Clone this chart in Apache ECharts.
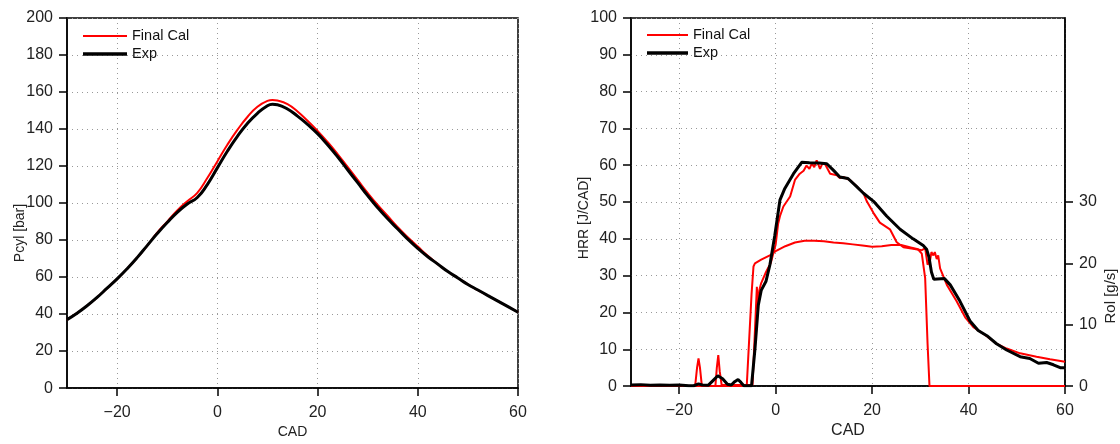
<!DOCTYPE html>
<html>
<head>
<meta charset="utf-8">
<script src="https://cdn.jsdelivr.net/npm/echarts@6/dist/echarts.min.js"></script>
<style>
html,body{margin:0;padding:0;background:#fff;}
#chart{width:1120px;height:444px;}
</style>
</head>
<body>
<div id="chart"></div>
<script>
// ---- Data ----
// Left panel: cylinder pressure [bar] vs CAD
const P_CAD = [-30,-28,-26,-24,-22,-20,-18,-16,-14,-12,-10,-8,-6,-4,-2,0,2,4,6,8,10,11,12,14,16,18,20,22,24,26,28,30,32,34,36,38,40,42,44,46,48,50,52,54,56,58,60];
const P_EXP = [37,40.5,44.5,49,54,59,64.5,70.5,77,83.5,89.5,95,99.5,103,110,119,128,136,143,148.5,152.6,153.4,153.1,150.8,147,142.5,137.5,131.5,125,118,111,104,97.5,91.5,86,80.5,75.5,71,67,63,59.5,56,53,50,47,44,41];
const P_CAL = [37,40.5,44.5,49,54,59,64.5,70.5,77,84,90,96,101,105.5,113.5,122.5,131.5,139.5,146.5,152,155.2,155.7,155.4,153.5,149.5,144.5,139,133,126.5,119.5,112.5,105.5,99,93,87,81.5,76.5,71.5,67,63,59.5,56,53,50,47,44,41];

// Right panel: heat release rate [J/CAD] vs CAD
const HRR_EXP_CAD = [-30,-28,-26,-24,-22,-20,-18,-17,-16,-15.2,-14,-13,-12,-11,-10,-9.2,-8.5,-7.8,-7.2,-6.6,-5,-4.3,-3.6,-3,-2,-1.2,-0.2,0.9,1.9,3.7,5.4,7,9,10.6,12,13.3,15,16.8,18.2,20.3,23,25.8,28.5,30.6,31.3,31.8,32.3,32.8,35,36.2,38.2,40.3,42,43.8,45.8,47.9,50.7,52.7,54.5,56.2,57.6,59,60];
const HRR_EXP = [0.3,0.4,0.2,0.3,0.2,0.3,0.1,0.1,0.6,0.3,0.2,1.5,2.8,2.0,0.5,0.3,1.2,1.8,1.0,0.1,0.1,10,22,26,28.5,32.9,40.8,50.6,53.7,57.7,60.8,60.7,60.6,60.4,58.6,56.8,56.4,54.2,52.4,50.2,46.2,42.6,40,38.2,37.2,35,31,29,29.2,27.5,23.1,17.7,15.1,13.7,11.5,9.8,8.0,7.5,6.2,6.4,5.8,5.0,5.0];
const HRR_CAL_CAD = [-30,-16.7,-16.3,-16,-15.7,-15.3,-12.5,-12.2,-11.9,-11.6,-11.2,-4.8,-4.2,-3.9,-3.7,-3.4,-3,-2,-1,0,0.5,0.9,1.6,3,4,5,5.8,6.4,7,7.5,8,8.5,9.2,9.7,10.2,11.3,12.7,13.3,14,15.4,17,18.2,18.9,20.3,21.6,23.7,25.1,26.5,28.5,30.3,31,31.5,32,32.3,32.7,33,33.4,33.7,34.1,35.5,37.5,39.3,41,43.1,45.8,47.9,50.7,54.1,56.9,59.7,60];
const HRR_CAL = [0,0,5,7.5,5,0,0,5,8.4,4,0.3,0.3,18,27,21,26,28,31,33.5,38.5,44,46.2,48.8,51.5,56,57.7,58.5,59.9,59,60.5,59.5,61.3,59,60.5,60.4,57.7,57.3,56.5,56.8,56,54,52.4,50.2,47,44.4,42.6,39.1,37.7,37.3,36.9,37.5,33,34,36.4,35.5,36.4,34.5,35.5,32,27.5,23.1,18.7,16,14.2,11.5,10.2,8.9,8.0,7.3,6.7,6.6];

// Right panel, secondary axis: rate of injection [g/s]
const INJ_CAD = [-30,-6,-5,-4.6,-4.3,-3,-1,0,2,4,6,8,10,12,14,16,18,20,22,24,26,28,29.5,30.3,31,31.5,31.9,60];
const INJ = [0,0,15,19.5,20,20.6,21.4,22,22.8,23.4,23.7,23.7,23.6,23.4,23.3,23.1,22.9,22.7,22.8,23.0,23.0,22.6,22.3,21.6,17.6,6.9,0,0];

// Tick labels
const X_TICKS = [-20, 0, 20, 40, 60];
const X_GRID = [-20, 0, 20, 40];
const ROL_TICKS = [0, 10, 20, 30];
const SERIES_NAMES = ['Final Cal', 'Exp'];

// ---- Chart ----
const zip = (xs, ys) => xs.map((x, i) => [x, ys[i]]);
const FONT = 'Liberation Sans, Arial, Helvetica, sans-serif';
const RED = '#ff0000', BLACK = '#000000';
const minusFmt = v => String(v).replace('-', '\u2212');

function xAxisCfg(gridIndex, nameSize, nameGap) {
  return {
    type: 'value', gridIndex, min: -30, max: 60, interval: 10,
    name: 'CAD', nameLocation: 'middle', nameGap,
    nameTextStyle: { fontSize: nameSize, color: '#222', fontFamily: FONT },
    axisLine: { onZero: false, lineStyle: { color: '#000', width: 1.5 } },
    axisTick: { customValues: X_TICKS, length: 8, lineStyle: { color: '#000', width: 1.5 } },
    axisLabel: { customValues: X_TICKS, fontSize: 16, color: '#222', margin: 16, fontFamily: FONT, formatter: minusFmt },
    splitLine: { show: true, customValues: X_GRID, lineStyle: { color: '#999', width: 1, type: [1, 4] } }
  };
}
function yAxisCfg(gridIndex, max, interval) {
  return {
    type: 'value', gridIndex, min: 0, max, interval,
    axisLine: { show: true, onZero: false, lineStyle: { color: '#000', width: 1.5 } },
    axisTick: { show: true, length: 8, lineStyle: { color: '#000', width: 1.5 } },
    axisLabel: { fontSize: 16, color: '#222', margin: 14, fontFamily: FONT },
    splitLine: { show: true, lineStyle: { color: '#999', width: 1, type: [1, 4] } }
  };
}
function legendCfg(name, left, top, w, h) {
  return {
    data: [name], left, top, padding: 0, itemWidth: w, itemHeight: h, icon: 'rect',
    itemGap: 0, textStyle: { fontSize: 14.5, color: '#111', fontFamily: FONT, lineHeight: 16 }
  };
}
function lineSeries(name, color, width, xi, yi, data) {
  return {
    name, type: 'line', xAxisIndex: xi, yAxisIndex: yi, data,
    showSymbol: false, symbol: 'none', color, itemStyle: { color },
    lineStyle: { color, width }, animation: false
  };
}

const option = {
  animation: false,
  textStyle: { fontFamily: FONT },
  grid: [
    { left: 67, right: 602, top: 18, bottom: 51, show: true, borderColor: '#000', borderWidth: 1.5, containLabel: false },
    { left: 631, right: 55, top: 18, bottom: 51, show: true, borderColor: '#000', borderWidth: 1.5, containLabel: false }
  ],
  legend: [
    legendCfg(SERIES_NAMES[0], 83, 28, 44, 2),
    legendCfg(SERIES_NAMES[1], 83, 46, 44, 3.5),
    legendCfg(SERIES_NAMES[0], 647, 27, 41, 2),
    legendCfg(SERIES_NAMES[1], 647, 45, 41, 3.5)
  ],
  xAxis: [ xAxisCfg(0, 14, 36), xAxisCfg(1, 16, 35) ],
  yAxis: [
    yAxisCfg(0, 200, 20),
    yAxisCfg(1, 100, 10),
    {
      type: 'value', gridIndex: 1, position: 'right', min: 0, max: 60, interval: 10,
      axisLine: { show: true, onZero: false, lineStyle: { color: '#000', width: 1.5 } },
      axisTick: { show: true, customValues: ROL_TICKS, length: 8, lineStyle: { color: '#000', width: 1.5 } },
      axisLabel: { customValues: ROL_TICKS, fontSize: 16, color: '#222', margin: 14, fontFamily: FONT },
      splitLine: { show: false }
    }
  ],
  graphic: [
    { type: 'text', x: 20, y: 233, rotation: Math.PI / 2,
      style: { text: 'Pcyl [bar]', fontSize: 14, fill: '#222', align: 'center', verticalAlign: 'middle', fontFamily: FONT } },
    { type: 'text', x: 584, y: 218, rotation: Math.PI / 2,
      style: { text: 'HRR [J/CAD]', fontSize: 14, fill: '#222', align: 'center', verticalAlign: 'middle', fontFamily: FONT } },
    { type: 'text', x: 1111, y: 296, rotation: Math.PI / 2,
      style: { text: 'Rol [g/s]', fontSize: 15, fill: '#222', align: 'center', verticalAlign: 'middle', fontFamily: FONT } }
  ],
  series: [
    Object.assign(lineSeries(SERIES_NAMES[0], RED, 2, 0, 0, zip(P_CAD, P_CAL)), { smooth: 0.5 }),
    Object.assign(lineSeries(SERIES_NAMES[1], BLACK, 3, 0, 0, zip(P_CAD, P_EXP)), { smooth: 0.5 }),
    lineSeries(SERIES_NAMES[0], RED, 2, 1, 2, zip(INJ_CAD, INJ)),
    lineSeries(SERIES_NAMES[0], RED, 2, 1, 1, zip(HRR_CAL_CAD, HRR_CAL)),
    lineSeries(SERIES_NAMES[1], BLACK, 3, 1, 1, zip(HRR_EXP_CAD, HRR_EXP))
  ]
};

const chart = echarts.init(document.getElementById('chart'), null, { renderer: 'canvas' });
chart.setOption(option);
</script>
</body>
</html>
